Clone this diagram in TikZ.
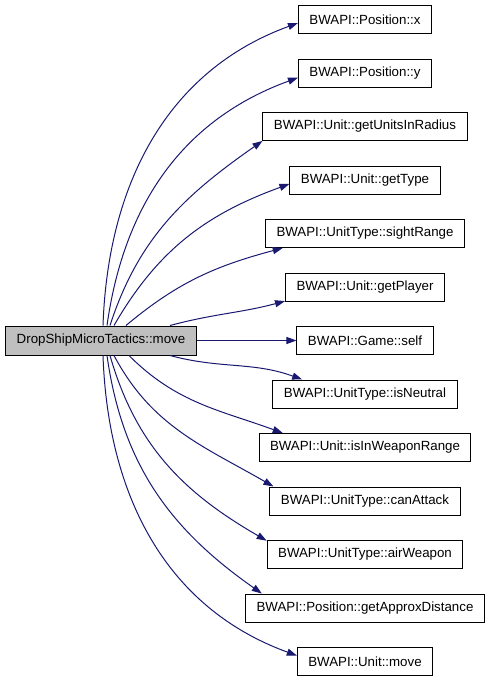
\documentclass[tikz,border=0pt]{standalone}
\usepackage{fontspec}
\setmainfont{Liberation Sans}
\usetikzlibrary{arrows.meta}
\definecolor{edgeblue}{HTML}{191970}
\definecolor{rootgray}{HTML}{BFBFBF}

\begin{document}
\begin{tikzpicture}[x=1pt, y=-1pt,
    every node/.style={rectangle, draw=black, line width=1pt, minimum height=28pt, inner xsep=11pt, inner ysep=0pt, font=\fontsize{13.3}{16}\selectfont},
    call/.style={draw=edgeblue, line width=1pt, -{Triangle[length=10pt,width=7pt,fill=edgeblue]}}]
    \useasboundingbox (0,0) rectangle (491,680);
    \node[fill=rootgray, minimum height=29pt] (move) at (101,340.5) {DropShipMicroTactics::move};
    \node (px) at (365,19.5) {BWAPI::Position::x};
    \node (py) at (365,73) {BWAPI::Position::y};
    \node (radius) at (365,126.5) {BWAPI::Unit::getUnitsInRadius};
    \node (gettype) at (365,180) {BWAPI::Unit::getType};
    \node (sight) at (365,233.5) {BWAPI::UnitType::sightRange};
    \node (player) at (365,287) {BWAPI::Unit::getPlayer};
    \node (self) at (365,340.5) {BWAPI::Game::self};
    \node (neutral) at (365,394) {BWAPI::UnitType::isNeutral};
    \node (inrange) at (365,447.5) {BWAPI::Unit::isInWeaponRange};
    \node (attack) at (365,501) {BWAPI::UnitType::canAttack};
    \node (air) at (365,554.5) {BWAPI::UnitType::airWeapon};
    \node (dist) at (365,608) {BWAPI::Position::getApproxDistance};
    \node (umove) at (365,661.5) {BWAPI::Unit::move};
        \draw[call] ([xshift=2pt]move.north) to[out=88,in=200] (px.183);
        \draw[call] ([xshift=6pt]move.north) to[out=82,in=200] (py.184);
        \draw[call] ([xshift=9pt]move.north) to[out=72,in=215] (radius.188);
        \draw[call] ([xshift=13pt]move.north) to[out=60,in=200] (gettype.183);
        \draw[call] ([xshift=25pt]move.north) to[out=40,in=195] (sight.190);
        \draw[call] ([xshift=69pt]move.north) to[out=15,in=195] (player.190);
        \draw[call] (move.east) -- (self.west);
        \draw[call] ([xshift=69pt]move.south) to[out=-15,in=160] (neutral.167);
        \draw[call] ([xshift=28pt]move.south) to[out=-45,in=160] (inrange.170);
        \draw[call] ([xshift=13pt]move.south) to[out=-62,in=150] (attack.171);
        \draw[call] ([xshift=9pt]move.south) to[out=-74,in=150] (air.172);
        \draw[call] ([xshift=6pt]move.south) to[out=-82,in=145] (dist.172);
        \draw[call] ([xshift=2pt]move.south) to[out=-88,in=160] (umove.175);
\end{tikzpicture}
\end{document}
